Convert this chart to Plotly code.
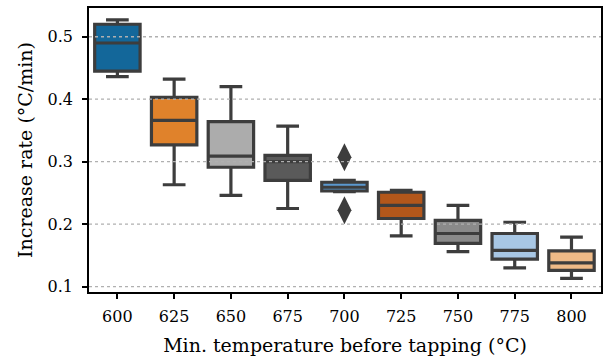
import plotly.graph_objects as go

categories = ["600", "625", "650", "675", "700", "725", "750", "775", "800"]
lower_whisker = [0.436, 0.263, 0.246, 0.225, 0.252, 0.181, 0.156, 0.130, 0.113]
q1 = [0.445, 0.327, 0.291, 0.270, 0.253, 0.209, 0.169, 0.144, 0.126]
median = [0.490, 0.366, 0.309, 0.300, 0.259, 0.230, 0.185, 0.158, 0.138]
q3 = [0.520, 0.403, 0.364, 0.310, 0.267, 0.251, 0.206, 0.185, 0.157]
upper_whisker = [0.527, 0.432, 0.420, 0.357, 0.270, 0.254, 0.230, 0.203, 0.179]
colors = ["#13679a", "#e0822b", "#acacac", "#5a5a5a", "#5b98cf",
          "#b3571b", "#8a8a8a", "#a8c7e4", "#eeba87"]
outlier_cat = ["700", "700"]
outlier_val = [0.307, 0.222]
grid_vals = [0.1, 0.2, 0.3, 0.4, 0.5]

LINE = "#3d3d3d"
FONT = "DejaVu Serif"

fig = go.Figure()
for i, c in enumerate(categories):
    fig.add_trace(go.Box(
        x=[i], q1=[q1[i]], median=[median[i]], q3=[q3[i]],
        lowerfence=[lower_whisker[i]], upperfence=[upper_whisker[i]],
        width=0.8, whiskerwidth=0.5, fillcolor=colors[i],
        line=dict(color=LINE, width=3.2), boxpoints=False,
        showlegend=False, hoverinfo="skip",
    ))

fig.add_trace(go.Scatter(
    x=[categories.index(c) for c in outlier_cat], y=outlier_val, mode="markers",
    marker=dict(symbol="diamond-tall", size=20, color=LINE, line=dict(width=0)),
    showlegend=False, hoverinfo="skip",
))

for g in grid_vals:
    fig.add_shape(type="line", xref="paper", x0=0, x1=1, yref="y", y0=g, y1=g,
                  line=dict(color="#b0b0b0", width=1.3, dash="dot"), layer="above")

fig.update_layout(
    width=606, height=360,
    margin=dict(l=89, r=3, t=8, b=68),
    paper_bgcolor="white", plot_bgcolor="white",
    font=dict(family=FONT, size=16, color="black"),
)
fig.update_xaxes(
    tickmode="array", tickvals=list(range(len(categories))), ticktext=categories,
    range=[-0.5, 8.52], showgrid=False, zeroline=False,
    showline=True, linecolor="black", linewidth=1.5, mirror=True,
    ticks="outside", ticklen=5, tickwidth=1.5, tickcolor="black",
    ticklabelstandoff=4,
    title=dict(text="Min. temperature before tapping (°C)", standoff=14),
)
fig.update_yaxes(
    range=[0.0913, 0.546], tickvals=grid_vals, ticktext=["0.1", "0.2", "0.3", "0.4", "0.5"],
    showgrid=False, zeroline=False,
    showline=True, linecolor="black", linewidth=1.5, mirror=True,
    ticks="outside", ticklen=5, tickwidth=1.5, tickcolor="black",
    ticklabelstandoff=6,
    title=dict(text="Increase rate (°C/min)", standoff=10),
)

fig.write_html("out.html")
